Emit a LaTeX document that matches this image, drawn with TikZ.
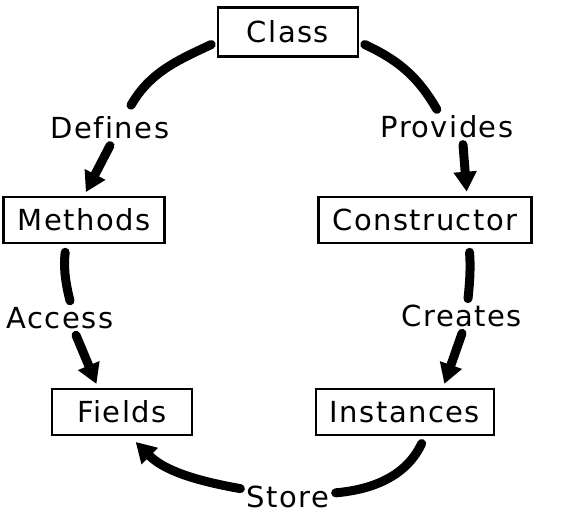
\documentclass[tikz,border=0pt]{standalone}
\usepackage{fontspec}
\setmainfont{DejaVu Sans}[LetterSpace=5,Ligatures=NoCommon]
\usetikzlibrary{arrows.meta}

\begin{document}
\begin{tikzpicture}[x=0.5pt,y=0.5pt,
  box/.style={draw,line width=1.3pt,inner xsep=7pt,minimum height=23pt,
    font=\fontsize{14.5}{17}\selectfont},
  lbl/.style={inner sep=3pt,font=\fontsize{14.5}{17}\selectfont},
  link/.style={line width=4.5pt,line cap=round},
  arr/.style={link,-{Triangle[length=10pt,width=11pt]},shorten >=2pt}]
  \useasboundingbox (0,0) rectangle (576,520);
  % Boxes
  \node[box,minimum width=70pt,minimum height=24.5pt] (class) at (288,488) {Class};
  \node[box] (methods) at (84,300) {Methods};
  \node[box] (constructor) at (425,300) {Constructor};
  \node[box,minimum width=70pt] (fields) at (122,108) {Fields};
  \node[box] (instances) at (405,108) {Instances};
  % Labels on the cycle
  \node[lbl] (defines) at (110,392) {Defines};
  \node[lbl] (provides) at (447,393) {Provides};
  \node[lbl] (access) at (60,202) {Access};
  \node[lbl] (creates) at (462,204) {Creates};
  \node[lbl] (store) at (288,23) {Store};
  % Left side: Class -> Methods -> Fields
  \draw[link,shorten <=3pt,shorten >=3pt] ([yshift=-5pt]class.west) to[out=205,in=60] ([xshift=9pt]defines.north);
  \draw[arr] (defines.south) -- (methods.north);
  \draw[link,shorten <=4pt] ([xshift=-9pt]methods.south) to[bend right=10] ([xshift=5pt]access.north);
  \draw[arr] ([xshift=8pt]access.south) -- ([xshift=-12pt]fields.north);
  % Right side: Class -> Constructor -> Instances
  \draw[link,shorten <=3pt] ([yshift=-5pt]class.east) to[out=-25,in=120] (provides);
  \draw[arr] ([xshift=8pt]provides.south) -- ([xshift=21pt]constructor.north);
  \draw[link,shorten <=4pt] ([xshift=22pt]constructor.south) to[bend left=5] ([xshift=3pt]creates.north);
  \draw[arr] (creates.south) -- ([xshift=19pt]instances.north);
  % Bottom: Instances -> Fields
  \draw[link,shorten <=4pt] ([xshift=10pt]instances.south) to[out=-115,in=5] (store);
  \draw[arr,shorten >=4pt] (store) to[out=170,in=-45] ([xshift=4pt]fields.south);
\end{tikzpicture}
\end{document}
